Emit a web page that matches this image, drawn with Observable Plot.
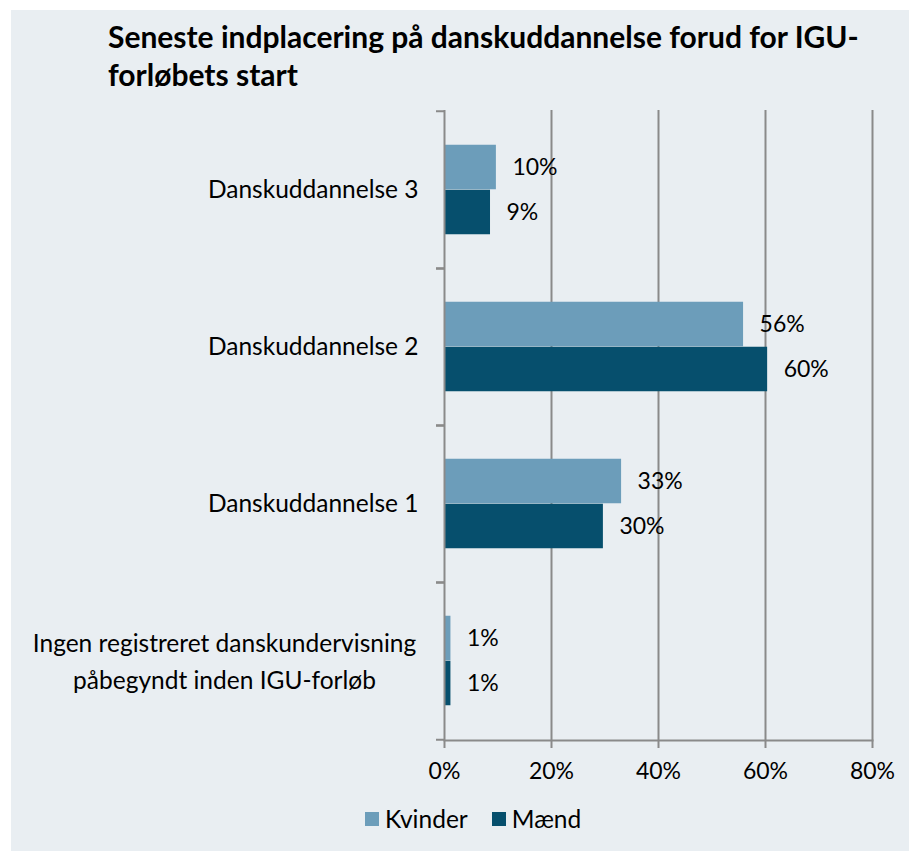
<!DOCTYPE html>
<html>
<head>
<meta charset="utf-8">
<script src="https://cdn.jsdelivr.net/npm/d3@7"></script>
<script src="https://cdn.jsdelivr.net/npm/@observablehq/plot@0.6"></script>
<style>
  html, body { margin: 0; padding: 0; background: #ffffff; }
  #panel { position: absolute; left: 11px; top: 10px; width: 898px; height: 841px; background: #e9eef2; font-family: Lato, "Open Sans", sans-serif; color: #000; }
  #title { position: absolute; left: 97px; top: 7px; width: 790px; font-size: 30px; font-weight: bold; line-height: 38px; }
  #chart { position: absolute; left: 0; top: 90px; }
  #legend { position: absolute; top: 794px; left: 354px; display: flex; align-items: center; font-size: 24.5px; }
  .sw { display: inline-block; width: 14px; height: 14px; margin-right: 6px; }
  .item { display: flex; align-items: center; margin-right: 24px; }
</style>
</head>
<body>
<div id="panel">
  <div id="title">Seneste indplacering på danskuddannelse forud for IGU-<br>forløbets start</div>
  <div id="chart"></div>
  <div id="legend"></div>
</div>
<script>
const categories = [
  "Danskuddannelse 3",
  "Danskuddannelse 2",
  "Danskuddannelse 1",
  "Ingen registreret danskundervisning\npåbegyndt inden IGU-forløb"
];
const series = ["Kvinder", "Mænd"];
const kvinder = [9.7, 55.9, 33.1, 1.2];
const maend = [8.6, 60.4, 29.7, 1.2];
const xTicks = [0, 20, 40, 60, 80];
const colors = ["#6c9dba", "#064f6d"];
const gridColor = "#8a8a8a";

const data = [];
categories.forEach((c, i) => {
  data.push({category: c, series: series[0], value: kvinder[i]});
  data.push({category: c, series: series[1], value: maend[i]});
});
const kData = data.filter(d => d.series === series[0]);
const mData = data.filter(d => d.series === series[1]);
const singleCats = categories.filter(c => !c.includes("\n"));
const multiCats = categories.filter(c => c.includes("\n"));

const W = 898, H = 700;
const bandPx = 157.5;

const plot = Plot.plot({
  width: W,
  height: H,
  marginLeft: 433,
  marginRight: 37,
  marginTop: 10,
  marginBottom: 60,
  style: {background: "transparent", fontFamily: "Lato, 'Open Sans', sans-serif", fontSize: "23px", color: "#000", overflow: "visible"},
  x: {domain: [0, 80], ticks: xTicks},
  y: {domain: categories, padding: 0, axis: null},
  color: {domain: series, range: colors},
  marks: [
    Plot.gridX(xTicks.slice(1), {stroke: gridColor, strokeOpacity: 1, strokeWidth: 2}),
    Plot.barX(kData, {x: "value", y: "category", fill: d => d.series, insetTop: bandPx/2 - 45, insetBottom: bandPx/2}),
    Plot.barX(mData, {x: "value", y: "category", fill: d => d.series, insetTop: bandPx/2, insetBottom: bandPx/2 - 45}),
    Plot.ruleX([0], {stroke: gridColor, strokeWidth: 2}),
    Plot.frame({anchor: "bottom", stroke: gridColor, strokeWidth: 2}),
    Plot.ruleY(categories, {y: d => d, x1: -1.5, x2: 0, dy: -bandPx/2, stroke: gridColor, strokeWidth: 2}),
    Plot.ruleY(categories, {y: d => d, x1: -1.5, x2: 0, dy: bandPx/2, stroke: gridColor, strokeWidth: 2}),
    Plot.axisX({ticks: xTicks, tickSize: 8, tickPadding: 14, tickFormat: d => d + "%", stroke: gridColor, strokeWidth: 2, strokeOpacity: 1, fontSize: 23, label: null}),
    Plot.text(kData, {x: "value", y: "category", text: d => Math.round(d.value) + "%", dx: 16, dy: -22.5, textAnchor: "start", fontSize: 23, fill: "#000"}),
    Plot.text(mData, {x: "value", y: "category", text: d => Math.round(d.value) + "%", dx: 16, dy: 22.5, textAnchor: "start", fontSize: 23, fill: "#000"}),
    Plot.text(singleCats, {x: () => 0, y: d => d, text: d => d, dx: -26, textAnchor: "end", fontSize: 24.5, fill: "#000"}),
    Plot.text(multiCats, {x: () => 0, y: d => d, text: d => d, dx: -220, dy: -2, textAnchor: "middle", lineHeight: 1.5, fontSize: 24.5, fill: "#000"})
  ]
});
document.getElementById("chart").appendChild(plot);

const legend = document.getElementById("legend");
series.forEach((s, i) => {
  const item = document.createElement("div");
  item.className = "item";
  const sw = document.createElement("span");
  sw.className = "sw";
  sw.style.background = colors[i];
  item.appendChild(sw);
  item.appendChild(document.createTextNode(s));
  legend.appendChild(item);
});
</script>
</body>
</html>
